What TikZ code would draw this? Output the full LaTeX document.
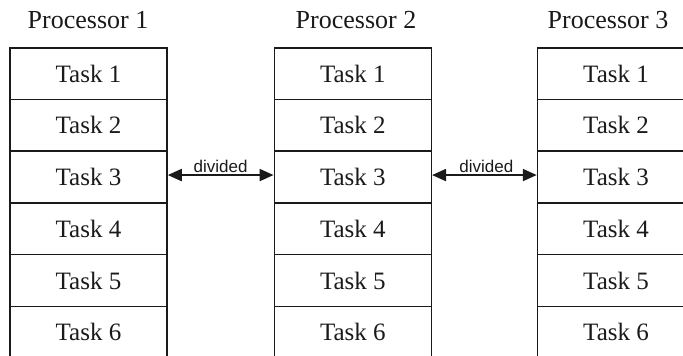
\documentclass[tikz,border=0pt]{standalone}
\usepackage{fontspec}
\setmainfont{Liberation Serif}
\newfontfamily\sanslab{Liberation Sans}
\usetikzlibrary{arrows.meta}
\definecolor{ink}{HTML}{1A1A1A}
\tikzset{
  cell/.style={draw=ink, line width=1.5pt, minimum width=157pt, minimum height=51.7pt,
    inner sep=0pt, text=ink, font=\fontsize{25}{25}\selectfont},
  proclabel/.style={anchor=base, text=ink, inner sep=0pt, font=\fontsize{26}{26}\selectfont},
  divarrow/.style={draw=ink, line width=2pt, {Triangle[length=14pt,width=12pt]}-{Triangle[length=14pt,width=12pt]}},
  divlabel/.style={anchor=base, text=ink, inner sep=0pt, yshift=2.6pt, font=\sanslab\fontsize{17}{17}\selectfont}
}
\begin{document}
\begin{tikzpicture}[x=1pt, y=-1pt]
  \useasboundingbox (0,0) rectangle (683,356);
  \clip (0,0) rectangle (683,356);
  % column headers
  \node[proclabel] (h1) at (88,28) {Processor 1};
  \node[proclabel] (h2) at (356,28) {Processor 2};
  \node[proclabel] (h3) at (608,28) {Processor 3};
  % task stacks, one per processor
  \foreach \p/\cx in {1/88.5, 2/352.8, 3/616} {
    \foreach \t in {1,...,6} {
      \node[cell] (p\p t\t) at (\cx, {47.8 + (\t-0.5)*51.7}) {Task \t};
    }
  }
  % division markers between neighbouring stacks
  \draw[divarrow] ([yshift=2pt]p1t3.east) -- ([yshift=2pt]p2t3.west)
    node[divlabel, midway] {divided};
  \draw[divarrow] ([yshift=2pt]p2t3.east) -- ([yshift=2pt]p3t3.west)
    node[divlabel, midway, xshift=2pt] {divided};
\end{tikzpicture}
\end{document}
